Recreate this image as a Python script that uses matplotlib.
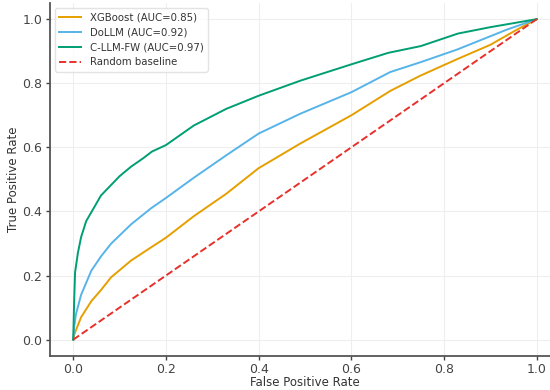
#!/usr/bin/env python3
"""ROC curves: XGBoost vs DoLLM vs C-LLM-FW, with the random baseline."""
import matplotlib

matplotlib.use("Agg")
import matplotlib.pyplot as plt

# Points (FPR, TPR).
xgb_fpr = [0, 0.002, 0.006, 0.017, 0.039, 0.06, 0.082, 0.125, 0.168, 0.2,
           0.26, 0.33, 0.4, 0.49, 0.6, 0.684, 0.748, 0.828, 0.9, 0.957, 1.0]
xgb_tpr = [0, 0.015, 0.03, 0.07, 0.12, 0.155, 0.195, 0.247, 0.288, 0.318,
           0.385, 0.455, 0.535, 0.612, 0.70, 0.776, 0.823, 0.875, 0.92, 0.967, 1.0]

dollm_fpr = [0, 0.002, 0.006, 0.017, 0.039, 0.06, 0.082, 0.125, 0.168, 0.2,
             0.26, 0.33, 0.4, 0.49, 0.6, 0.684, 0.748, 0.828, 0.935, 1.0]
dollm_tpr = [0, 0.04, 0.08, 0.14, 0.215, 0.26, 0.30, 0.36, 0.41, 0.442,
             0.505, 0.575, 0.643, 0.705, 0.772, 0.835, 0.865, 0.905, 0.967, 1.0]

cllm_fpr = [0, 0.002, 0.004, 0.01, 0.017, 0.028, 0.04, 0.06, 0.08, 0.10,
            0.125, 0.15, 0.17, 0.20, 0.26, 0.33, 0.40, 0.49, 0.60, 0.68,
            0.75, 0.83, 0.90, 0.94, 1.0]
cllm_tpr = [0, 0.12, 0.21, 0.27, 0.32, 0.37, 0.40, 0.45, 0.48, 0.51,
            0.54, 0.565, 0.587, 0.607, 0.668, 0.72, 0.761, 0.808, 0.859, 0.895,
            0.916, 0.955, 0.975, 0.985, 1.0]

curves = [
    ("XGBoost (AUC=0.85)", xgb_fpr, xgb_tpr, "#E69F00"),
    ("DoLLM (AUC=0.92)", dollm_fpr, dollm_tpr, "#56B4E9"),
    ("C-LLM-FW (AUC=0.97)", cllm_fpr, cllm_tpr, "#009E73"),
]

fig = plt.figure(figsize=(5.5, 3.9), dpi=100)
ax = fig.add_axes([0.091, 0.088, 0.927, 0.904])

for label, fpr, tpr, color in curves:
    ax.plot(fpr, tpr, color=color, lw=1.4, label=label)
ax.plot([0, 1], [0, 1], ls="--", color="#E8302A", lw=1.4, label="Random baseline")

ax.set_xlim(-0.05, 1.05)
ax.set_ylim(-0.05, 1.05)
ax.set_xticks([0, 0.2, 0.4, 0.6, 0.8, 1.0])
ax.set_yticks([0, 0.2, 0.4, 0.6, 0.8, 1.0])
ax.set_xlabel("False Positive Rate", fontsize=8.5, color="#333333", labelpad=0)
ax.set_ylabel("True Positive Rate", fontsize=8.5, color="#333333", labelpad=2)
ax.tick_params(labelsize=9, colors="#444444", length=3, width=1, pad=2.5)
ax.grid(True, color="#eeeeee", lw=0.8)
for side in ("top", "right"):
    ax.spines[side].set_visible(False)
for side in ("left", "bottom"):
    ax.spines[side].set_color("#555555")
    ax.spines[side].set_linewidth(1.3)

ax.legend(loc="upper left", fontsize=7.3, frameon=True, handlelength=2.2,
          borderaxespad=0.5, labelcolor="#333333", edgecolor="#dddddd")

fig.savefig("out.png", dpi=100)
